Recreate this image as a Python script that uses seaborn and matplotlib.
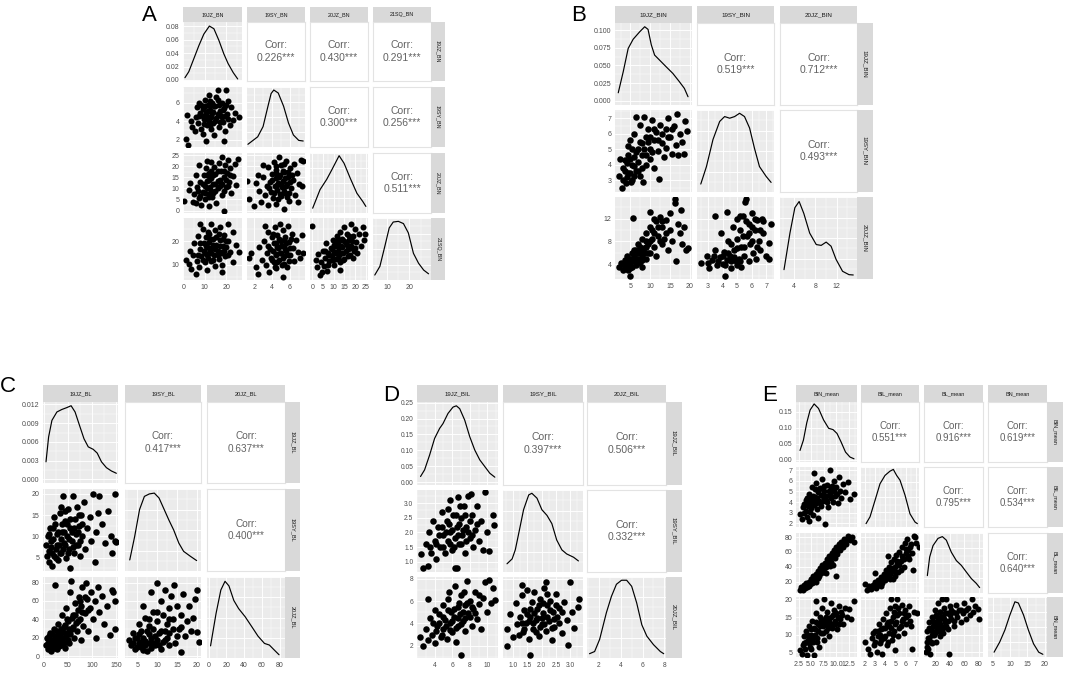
import matplotlib
matplotlib.use("Agg")
import matplotlib.pyplot as plt
from matplotlib.ticker import AutoMinorLocator, MaxNLocator
import pandas as pd
import seaborn as sns

# ---------------- panel A ----------------
A_names = ["19JZ_BN", "19SY_BN", "20JZ_BN", "21SQ_BN"]
A_corr = ["0.226***", "0.430***", "0.291***", "0.300***", "0.256***", "0.511***"]
A_ticks = [[0, 10, 20], [2, 4, 6], [0, 5, 10, 15, 20, 25], [10, 20]]
A_labels = [["0", "10", "20"], ["2", "4", "6"], ["0", "5", "10", "15", "20", "25"], ["10", "20"]]
A_lims = [(-0.1, 27.4), (1.2, 7.7), (-1.1, 26.0), (3.6, 29.7)]
A_dens_ticks = [0.00, 0.02, 0.04, 0.06, 0.08]
A_dens_labels = ["0.00", "0.02", "0.04", "0.06", "0.08"]
A_dens_lim = (-0.0015, 0.086)
A_d1_x = [0.8, 2.6, 5.0, 7.3, 9.6, 12.2, 14.3, 16.6, 18.9, 20.9, 23.3, 25.4]
A_d1_y = [0.0034, 0.0123, 0.032, 0.051, 0.068, 0.080, 0.076, 0.059, 0.039, 0.0245, 0.011, 0.0015]
A_d2_x = [1.3, 2.4, 3.0, 3.55, 3.9, 4.2, 4.7, 5.3, 5.85, 6.4, 7.0, 7.5]
A_d2_y = [0.045, 0.17, 0.34, 0.68, 0.89, 0.95, 0.90, 0.68, 0.40, 0.20, 0.11, 0.10]
A_d3_x = [0.15, 3.6, 6.7, 9.1, 12.5, 14.8, 17.7, 20.8, 23.6, 25.0]
A_d3_y = [0.08, 0.39, 0.56, 0.72, 0.955, 0.83, 0.58, 0.33, 0.19, 0.11]
A_d4_x = [4.4, 6.7, 8.9, 10.9, 12.7, 15.0, 17.3, 19.5, 21.8, 24.1, 26.4, 28.6]
A_d4_y = [0.08, 0.22, 0.54, 0.84, 0.935, 0.946, 0.91, 0.76, 0.43, 0.27, 0.16, 0.10]
A_p21 = [(1.1, 2.1), (2.3, 1.4), (1.9, 4.7), (3.5, 4.0), (4.2, 3.4), (5.7, 2.9), (6, 4.5), (6.5, 5.5),
         (7, 3.8), (7.5, 6.0), (8, 4.9), (8.5, 3.2), (9, 5.3), (9.5, 4.2), (10, 6.3), (10.4, 1.8),
         (10.5, 5.0), (11, 3.6), (11, 4.6), (11.5, 5.8), (12, 4.0), (12, 6.8), (12.5, 5.2), (13, 3.1),
         (13, 4.5), (13.5, 6.0), (14, 5.0), (14, 3.8), (14.5, 2.5), (15, 5.6), (15.5, 4.3), (16, 7.4),
         (16, 6.3), (16.5, 3.4), (17, 5.1), (17.5, 4.6), (18, 6.0), (18.5, 3.9), (19, 5.4), (19.5, 2.9),
         (20, 7.4), (20.5, 4.8), (21, 6.2), (22, 3.6), (22.5, 5.5), (23, 4.1), (24.3, 4.9), (26, 4.4),
         (19, 1.9), (9, 2.6), (7.5, 4.6), (8.5, 5.8), (9.5, 3.7), (10.5, 4.2), (11.5, 5.1), (12.5, 3.6),
         (12.5, 6.2), (13.5, 4.9), (14.5, 5.6), (15, 4.0), (15.5, 6.6), (16, 4.8), (16.5, 5.7), (17, 3.9),
         (18, 4.4), (18.5, 5.2), (19.5, 4.6), (20, 5.8), (21, 4.2), (10, 5.6), (13, 5.8), (9, 4.6)]
A_p31 = [(0.3, 4.5), (2.6, 9.2), (3, 12.5), (4.5, 4), (5, 7.5), (6, 3.5), (6.5, 10.5), (7.3, 20.5),
         (7.5, 5.5), (8, 13), (8.5, 2.5), (9, 8.5), (9.5, 16), (10, 11), (10, 5), (10.5, 19), (11, 13.5),
         (11.5, 7.5), (12, 2), (12, 17), (12.5, 10.5), (13, 22), (13, 14.5), (13.5, 6), (14, 12),
         (14.5, 19.5), (15, 9), (15, 16.5), (15.5, 3.5), (16, 13.5), (16.5, 21.5), (17, 11), (17.5, 18),
         (18, 7), (18, 24), (18.8, 0), (19, 15), (19.5, 20.5), (20, 10.5), (20.5, 17), (21, 23), (21.5, 13),
         (22, 19), (22.5, 8), (23, 15.5), (24, 21), (25.4, 23.5), (24.5, 11.5), (11, 22.5), (6, 16),
         (7, 9), (8, 6.5), (9, 12), (10, 8), (11, 10), (12, 14), (12, 6), (13, 9), (14, 16), (14, 8),
         (15, 12), (16, 10), (16, 18), (17, 14), (18, 12), (19, 9), (19, 18), (20, 14), (21, 11), (22, 16),
         (11, 16), (13, 18)]
A_p41 = [(1.1, 12), (2.5, 10.5), (3.4, 8.3), (3, 16), (4.5, 14), (5, 19), (6, 6), (6.5, 11.5), (7, 22),
         (7.5, 9), (8, 16.5), (8.5, 13.5), (9, 25), (9.5, 19), (10, 11), (10, 15), (10.5, 21.5), (11, 8),
         (11, 17.5), (11.5, 13), (12, 23), (12, 19.5), (12.5, 15.5), (13, 27), (13, 11.5), (13.5, 17),
         (14, 21), (14.5, 14), (15, 24.5), (15, 9.5), (15.5, 18.5), (16, 16), (16.5, 12.5), (17, 26),
         (17, 20.5), (17.5, 15), (18, 10), (18.5, 18), (19, 22.5), (19.5, 13.5), (20, 17.5), (21, 27),
         (21, 20), (22, 15.5), (23, 24), (23, 11), (24.5, 18.5), (25.9, 15.4), (18, 7), (8, 27),
         (7, 14), (8, 19), (9, 12), (9.5, 16), (10.5, 18), (11, 14), (12, 17), (12.5, 21), (13, 15),
         (14, 18.5), (14, 12), (15, 16.5), (15.5, 21.5), (16, 14), (17, 18), (18, 15.5), (18.5, 21),
         (19, 16), (20, 20), (21, 14), (11.5, 24), (16.5, 23)]
A_p32 = [(1.25, 13.3), (1.45, 5), (2, 2), (2.2, 12.5), (2.6, 9), (2.8, 4), (3, 15), (3.2, 7), (3.4, 11),
         (3.5, 19.5), (3.6, 2.5), (3.8, 13), (3.9, 8.5), (4, 16.5), (4.1, 5.5), (4.2, 22), (4.3, 11),
         (4.4, 14.5), (4.5, 18.5), (4.5, 3), (4.6, 9.5), (4.7, 12.5), (4.8, 24), (4.9, 16), (5, 6.5),
         (5, 20.5), (5.1, 10.5), (5.2, 13.5), (5.3, 0.5), (5.4, 17.5), (5.5, 8), (5.6, 22.5), (5.7, 12),
         (5.8, 15), (5.9, 4.5), (6, 19), (6.1, 10), (6.3, 14), (6.5, 21), (6.6, 7), (6.8, 17), (7, 12),
         (7.2, 23), (7.4, 11), (7.46, 22.6), (6.9, 4), (3, 20.5), (2.4, 16),
         (3.7, 10), (4, 14), (4.2, 8), (4.4, 17), (4.6, 11.5), (4.8, 15), (4.9, 7.5), (5, 12), (5.2, 18),
         (5.3, 9), (5.5, 14.5), (5.6, 11), (5.8, 17.5), (5.9, 8), (6, 13), (6.2, 16), (4.5, 20), (5.4, 21),
         (4.7, 5), (5.7, 6)]
A_p42 = [(1.4, 13), (1.6, 15), (2.2, 9), (2.4, 6.3), (2.5, 17.5), (2.9, 12), (3.1, 20), (3.3, 10), (3.4, 15),
         (3.5, 24), (3.6, 18), (3.7, 7), (3.9, 13), (4, 21.5), (4.1, 16), (4.2, 11), (4.3, 26), (4.4, 19),
         (4.5, 14), (4.5, 8.5), (4.6, 22.5), (4.7, 17), (4.8, 12), (4.9, 27), (5, 20), (5, 15), (5.1, 10),
         (5.2, 24.5), (5.3, 18), (5.4, 13.5), (5.5, 21.5), (5.6, 16), (5.7, 9), (5.8, 26.5), (5.9, 19.5),
         (6, 14), (6.2, 23), (6.4, 17), (6.5, 11.5), (6.7, 20.5), (6.9, 15.5), (7.1, 13), (7.4, 22.4),
         (7.5, 15), (5.2, 5), (3.2, 26.5),
         (3.8, 16.5), (4, 12), (4.2, 19), (4.4, 14.5), (4.6, 17.5), (4.8, 21), (4.9, 15), (5, 18), (5.2, 13),
         (5.3, 20.5), (5.5, 16.5), (5.6, 19), (5.8, 14), (6, 17), (6.1, 21), (4.6, 11), (5.4, 10.5),
         (4.1, 23), (5.9, 11.5), (4.3, 9)]
A_p43 = [(0, 26.5), (1.5, 12), (2, 9), (2.5, 14.5), (3.5, 5.5), (4, 11), (4.4, 7), (5, 16), (5.5, 9.5),
         (6, 13), (6.5, 19), (7, 7.5), (7.5, 15), (8, 11.5), (8.5, 17), (9, 13.5), (9.5, 20.5), (10, 10),
         (10, 15.5), (10.5, 18), (11, 12.5), (11.5, 22), (12, 16), (12, 19.5), (12.5, 14), (13, 24),
         (13, 11), (13.5, 18), (14, 21), (14.5, 15), (15, 26), (15, 12.5), (15.5, 19), (16, 23),
         (16.5, 16.5), (17, 20.5), (17.5, 14), (18, 27), (18, 18), (19, 22), (19.5, 16), (20, 25),
         (20.5, 19.5), (21, 15), (22, 23), (22.5, 18), (23.5, 26), (24, 20.5), (24.5, 23), (13, 8),
         (8, 14), (9, 16.5), (9.5, 12), (10, 18.5), (11, 15), (11, 20), (12, 13), (12.5, 17.5), (13, 20.5),
         (13.5, 15), (14, 17.5), (14.5, 12), (15, 20), (15.5, 16), (16, 18.5), (16.5, 13.5), (17, 22),
         (17.5, 17), (18.5, 20), (19, 13), (20, 17), (6, 16), (7.5, 10)]

# ---------------- panel B ----------------
B_names = ["19JZ_BIN", "19SY_BIN", "20JZ_BIN"]
B_corr = ["0.519***", "0.712***", "0.493***"]
B_ticks = [[5, 10, 15, 20], [3, 4, 5, 6, 7], [4, 8, 12]]
B_labels = [["5", "10", "15", "20"], ["3", "4", "5", "6", "7"], ["4", "8", "12"]]
B_lims = [(1.1, 20.5), (2.24, 7.54), (1.4, 15.8)]
B_dens_ticks = [0.0, 0.025, 0.05, 0.075, 0.1]
B_dens_labels = ["0.000", "0.025", "0.050", "0.075", "0.100"]
B_dens_lim = (-0.006, 0.110)
B_d1_x = [1.92, 3.17, 4.42, 5.67, 7.33, 8.58, 9.42, 10.25, 11.08, 12.33, 14.0, 15.67, 17.33, 18.58, 19.5]
B_d1_y = [0.0113, 0.041, 0.074, 0.087, 0.0976, 0.1047, 0.101, 0.079, 0.0646, 0.0575, 0.048, 0.0387,
          0.0269, 0.0175, 0.0057]
B_d2_x = [2.5, 2.89, 3.34, 3.8, 4.14, 4.49, 4.83, 5.17, 5.51, 5.86, 6.2, 6.54, 7.0, 7.34]
B_d2_y = [0.097, 0.31, 0.64, 0.86, 0.92, 0.90, 0.92, 0.96, 0.92, 0.78, 0.53, 0.31, 0.19, 0.117]
B_d3_x = [2.15, 3.26, 4.18, 4.98, 5.85, 6.95, 8.18, 9.1, 10.03, 10.95, 11.88, 13.1, 14.3, 15.1]
B_d3_y = [0.114, 0.56, 0.87, 0.945, 0.80, 0.56, 0.42, 0.41, 0.45, 0.40, 0.24, 0.094, 0.053, 0.049]
B_p21 = [(2, 3.3), (2.3, 4.4), (2.9, 2.5), (3, 3.0), (3.5, 3.6), (4, 4.1), (4, 3.2), (4.5, 4.6), (5, 3.5),
         (5, 5.6), (5.5, 4.0), (5.5, 3.0), (6, 4.5), (6, 6.0), (6.5, 3.6), (7, 5.0), (7, 4.2), (7.5, 6.6),
         (7.5, 3.3), (8, 5.4), (8, 4.6), (8.2, 2.9), (8.5, 7.1), (9, 5.8), (9, 4.0), (9.5, 6.3), (10, 5.0),
         (10, 4.4), (10.5, 6.9), (11, 5.6), (11, 3.8), (11.5, 6.1), (12, 4.9), (12.3, 3.1), (12.5, 6.6),
         (13, 5.4), (13.5, 4.5), (14, 6.3), (14, 5.1), (14.5, 7.0), (15, 5.8), (15.5, 4.7), (16, 6.5),
         (16.5, 5.3), (16.8, 7.3), (17, 4.6), (17.5, 6.0), (18, 5.5), (18.5, 4.7), (18.8, 6.8),
         (19.3, 6.2), (6.5, 7.1),
         (3, 3.8), (3.5, 4.3), (4.5, 3.5), (5, 4.4), (5.5, 5.0), (6, 3.3), (6, 3.9), (6.5, 4.8), (7, 3.6),
         (7.5, 5.5), (8, 3.8), (8.5, 5.0), (9, 4.6), (9.5, 5.5), (10, 5.8), (10.5, 4.8), (11, 6.3),
         (12, 5.6), (13, 6.0), (14.5, 5.8), (15.5, 6.3), (4.5, 5.2), (3.8, 2.8), (5.2, 2.9)]
B_p31 = [(2, 3.5), (2.5, 4.2), (3, 3.0), (3.5, 4.8), (4, 3.6), (4, 5.5), (4.5, 4.2), (4.8, 2.0), (5, 5.0),
         (5, 3.3), (5.5, 6.0), (5.7, 12.2), (6, 4.5), (6, 5.5), (6.5, 3.8), (6.5, 6.5), (7, 5.0), (7, 7.5),
         (7.5, 4.3), (7.5, 6.2), (8, 5.5), (8, 8.5), (8.5, 6.8), (9, 5.0), (9, 9.5), (9.5, 7.5), (10, 6.0),
         (10, 10.5), (10, 13.2), (10.5, 8.5), (11, 7.0), (11.5, 11.5), (11.5, 5.5), (12, 9.0), (12.5, 12.3),
         (13, 7.5), (13, 10.5), (13.5, 8.5), (14, 11.8), (14.5, 6.5), (15, 10), (15, 13), (15.5, 8),
         (16.1, 15.4), (16.3, 14.8), (16.5, 4.5), (17, 11), (17.5, 9.5), (17.7, 13.6), (18, 7.5),
         (18.5, 10.5), (19.5, 6.9), (19, 6.5),
         (3, 4.0), (3.5, 3.5), (4, 4.5), (4.5, 5.0), (5, 4.0), (5.5, 4.8), (5.5, 3.5), (6, 6.5), (6.5, 5.0),
         (7, 4.2), (7, 6.0), (7.5, 7.0), (8, 4.8), (8.5, 6.0), (9, 7.0), (9, 8.0), (9.5, 6.0), (10, 8.0),
         (10.5, 10), (11, 9.5), (12, 10.5), (12.5, 8), (13, 11.5), (14, 9.5), (11, 12), (8, 3.5), (4.5, 3.0)]
B_p32 = [(2.5, 4.2), (2.9, 5.5), (3.1, 3.3), (3.3, 4.8), (3.5, 6.5), (3.6, 3.8), (3.8, 5.2), (3.9, 9.5),
         (4, 4.0), (4.1, 6.2), (4.2, 2.0), (4.3, 13.2), (4.3, 4.8), (4.4, 8.0), (4.5, 5.5), (4.6, 3.3),
         (4.7, 10.5), (4.8, 6.5), (4.9, 4.5), (5, 12), (5, 8.5), (5.1, 5.0), (5.2, 10), (5.3, 3.5), (5.3, 7),
         (5.4, 12.5), (5.5, 5.5), (5.56, 15), (5.63, 15.4), (5.7, 9), (5.8, 11), (5.8, 4.5), (5.9, 7.5),
         (6, 13), (6.1, 6), (6.2, 10), (6.3, 5), (6.4, 11.8), (6.5, 8), (6.6, 6.5), (6.7, 12), (6.8, 9.5),
         (7, 5.5), (7.18, 7.8), (7.34, 11), (7.2, 5.0), (3.5, 12.5),
         (3.7, 4.5), (4, 5.5), (4.2, 3.8), (4.4, 6), (4.6, 4.5), (4.8, 5.2), (5, 3.8), (5, 6.8), (5.2, 4.5),
         (5.4, 9), (5.5, 7), (5.6, 11.5), (5.8, 9.5), (6, 8), (6, 10.5), (6.2, 12), (6.4, 7), (6.6, 10),
         (6.8, 11.5), (5.2, 12.5), (4.6, 7.5), (3.4, 5.5), (3, 4.2)]

# ---------------- panel C ----------------
C_names = ["19JZ_BL", "19SY_BL", "20JZ_BL"]
C_corr = ["0.417***", "0.637***", "0.400***"]
C_ticks = [[0, 50, 100, 150], [5, 10, 15, 20], [0, 20, 40, 60, 80]]
C_labels = [["0", "50", "100", "150"], ["5", "10", "15", "20"], ["0", "20", "40", "60", "80"]]
C_lims = [(-1.4, 153.4), (1.9, 21.1), (-1.8, 86.0)]
C_dens_ticks = [0.0, 0.003, 0.006, 0.009, 0.012]
C_dens_labels = ["0.000", "0.003", "0.006", "0.009", "0.012"]
C_dens_lim = (-0.0006, 0.0124)
C_d1_x = [4.8, 10.2, 17, 27.3, 37.5, 47.7, 56.6, 64.8, 75, 83.2, 92, 102.3, 110.5, 119.3, 129.5, 139.8, 150]
C_d1_y = [0.0028, 0.0068, 0.00945, 0.0108, 0.0112, 0.0115, 0.0118, 0.0108, 0.0084, 0.0065, 0.0052,
          0.0048, 0.0042, 0.0028, 0.00186, 0.00133, 0.00096]
C_d2_x = [3.1, 4.34, 5.58, 6.8, 8.05, 9.3, 10.5, 11.8, 13.0, 14.2, 15.5, 16.7, 18.4, 20.0]
C_d2_y = [0.135, 0.42, 0.75, 0.91, 0.94, 0.95, 0.89, 0.75, 0.62, 0.50, 0.34, 0.24, 0.18, 0.127]
C_d3_x = [2.2, 8.4, 13.8, 18.5, 22.9, 28.4, 33.8, 41.1, 48.4, 55.6, 62.9, 68.4, 73.8, 79.3]
C_d3_y = [0.15, 0.55, 0.84, 0.947, 0.89, 0.71, 0.61, 0.51, 0.39, 0.27, 0.18, 0.16, 0.10, 0.04]
C_p21 = [(5, 8), (6, 5.5), (8, 10), (10, 6.5), (12, 4), (14, 12), (16, 7.5), (18, 3), (20, 9.5), (22, 5.5),
         (24, 13), (26, 7), (28, 10.5), (30, 4.5), (32, 8), (34, 15.5), (36, 6), (38, 11), (40, 19.5),
         (42, 8.5), (44, 13.5), (46, 5), (48, 10), (50, 16.5), (52, 7), (54.5, 2.6), (55, 12), (58, 9),
         (60, 19.5), (62, 6), (64, 14), (66, 10.5), (68, 17), (70, 8), (72, 12.5), (75, 5.5), (78, 15),
         (80, 10), (84, 18), (86, 7), (90, 12), (95, 14.5), (98, 9), (102, 20), (105, 4), (108, 11),
         (112, 15.5), (115, 19.5), (120, 13), (126, 8.5), (132, 16), (138, 10), (146.6, 20), (146.6, 9),
         (150, 8.7), (140, 6),
         (15, 9), (18, 6), (20, 12), (25, 5), (28, 8), (30, 11), (33, 6), (35, 9.5), (38, 13), (40, 7),
         (42, 11), (45, 8), (48, 13), (50, 6), (52, 9.5), (55, 14), (58, 11), (60, 7.5), (63, 12), (66, 8),
         (70, 11), (72, 15), (75, 9), (80, 13), (45, 16), (35, 17), (10, 10.5), (22, 14.5)]
C_p31 = [(5, 12), (7, 20), (9, 8), (11, 15), (13, 25), (15, 6), (17, 18), (19, 10), (21, 30), (23.9, 77.5),
         (24, 14), (26, 22), (28, 8), (30, 35), (32, 17), (34, 26), (36, 12), (38, 45), (40, 20), (42, 32),
         (44, 9), (46, 52), (48, 25), (50, 38), (52, 15), (54, 70), (56.6, 82), (58, 30), (60, 45), (62, 20),
         (64, 58), (66, 36), (68, 27), (70, 50), (72, 64), (74, 40), (76, 18), (78, 55), (80, 75), (82, 33),
         (85, 47), (88, 80), (90, 62), (92, 28), (95, 52), (98, 70), (102, 40), (105, 60), (108, 20),
         (112, 75), (115, 48), (120, 65), (125, 35), (130, 55), (136, 23), (140, 72), (143, 70),
         (146.6, 30), (148, 60),
         (8, 15), (10, 22), (12, 10), (14, 18), (16, 12), (18, 24), (20, 16), (22, 9), (24, 20), (26, 13),
         (28, 28), (30, 18), (32, 11), (34, 22), (36, 30), (38, 16), (40, 26), (42, 14), (44, 34), (46, 22),
         (48, 40), (50, 18), (52, 30), (55, 24), (58, 42), (60, 32), (65, 45), (70, 38), (75, 60), (80, 48),
         (86, 64), (92, 50)]
C_p32 = [(3, 18), (3.5, 12), (4, 25), (4.5, 8), (5, 20), (5.5, 15), (5.5, 35), (6, 10), (6, 28), (6.5, 55),
         (7, 17), (7, 42), (7.5, 6), (8, 24), (8, 33), (8.5, 70), (9, 14), (9, 48), (9.5, 22), (10, 38),
         (10.1, 80), (10.5, 12), (11, 28), (11, 60), (11.5, 45), (12, 18), (12, 72), (12.5, 35), (13, 52),
         (13, 25), (13.5, 65), (14, 40), (14.2, 77.5), (14.5, 15), (15, 55), (15.5, 30), (16, 45), (16, 5),
         (16.5, 68), (17, 22), (17.5, 38), (18, 55), (18.5, 28), (19, 42), (19.5, 62), (20, 26),
         (20.5, 16), (20, 72),
         (4, 14), (4.5, 20), (5, 10), (5.5, 24), (6, 16), (6.5, 7), (6.5, 20), (7, 12), (7.5, 28), (8, 15),
         (8.5, 9), (8.5, 20), (9, 30), (9.5, 12), (10, 18), (10.5, 25), (11, 8), (11.5, 16), (12, 28),
         (12.5, 20), (13, 12), (14, 30), (15, 22), (10, 48), (8, 40), (13, 40), (16, 32)]

# ---------------- panel D ----------------
D_names = ["19JZ_BIL", "19SY_BIL", "20JZ_BIL"]
D_corr = ["0.397***", "0.506***", "0.332***"]
D_ticks = [[4, 6, 8, 10], [1.0, 1.5, 2.0, 2.5, 3.0], [2, 4, 6, 8]]
D_labels = [["4", "6", "8", "10"], ["1.0", "1.5", "2.0", "2.5", "3.0"], ["2", "4", "6", "8"]]
D_lims = [(2.0, 11.2), (0.65, 3.45), (0.9, 8.15)]
D_dens_ticks = [0.0, 0.05, 0.10, 0.15, 0.20, 0.25]
D_dens_labels = ["0.00", "0.05", "0.10", "0.15", "0.20", "0.25"]
D_dens_lim = (-0.009, 0.252)
D_d1_x = [2.4, 2.86, 3.43, 4.0, 4.57, 4.95, 5.52, 6.09, 6.47, 6.85, 7.42, 7.99, 8.56, 9.13, 9.7, 10.27, 10.84]
D_d1_y = [0.0177, 0.0385, 0.085, 0.1375, 0.169, 0.184, 0.216, 0.236, 0.24, 0.231, 0.195, 0.143, 0.101,
          0.070, 0.049, 0.028, 0.0156]
D_d2_x = [0.79, 0.97, 1.08, 1.2, 1.37, 1.55, 1.66, 1.84, 2.01, 2.19, 2.36, 2.53, 2.71, 2.88, 3.12, 3.29]
D_d2_y = [0.10, 0.16, 0.27, 0.47, 0.76, 0.94, 0.96, 0.90, 0.76, 0.69, 0.59, 0.39, 0.27, 0.22, 0.18, 0.135]
D_d3_x = [1.13, 1.6, 2.06, 2.68, 3.14, 3.6, 4.07, 4.54, 5.0, 5.46, 5.93, 6.39, 7.0, 7.63, 7.94]
D_d3_y = [0.053, 0.08, 0.23, 0.56, 0.76, 0.91, 0.96, 0.96, 0.885, 0.68, 0.41, 0.27, 0.165, 0.08, 0.053]
D_p21 = [(2.4, 1.25), (2.67, 0.8), (3.0, 1.6), (3.24, 0.87), (3.4, 2.0), (3.6, 1.3), (3.8, 2.4), (4.0, 1.7),
         (4.2, 1.1), (4.4, 2.2), (4.6, 1.5), (4.8, 2.7), (5.0, 1.9), (5.2, 1.3), (5.4, 2.4), (5.5, 1.7),
         (5.7, 3.1), (5.8, 2.0), (6.0, 1.4), (6.1, 2.6), (6.3, 0.8), (6.3, 1.8), (6.5, 2.2), (6.5, 0.78),
         (6.7, 3.2), (6.8, 1.6), (7.0, 2.5), (7.1, 1.9), (7.3, 2.9), (7.4, 1.3), (7.6, 2.2), (7.8, 3.25),
         (8.0, 1.8), (8.2, 2.6), (8.4, 1.5), (8.6, 2.1), (8.8, 2.9), (9.0, 1.7), (9.3, 2.4), (9.5, 1.4),
         (9.7, 3.37), (9.9, 2.0), (10.2, 1.35), (10.6, 2.58), (10.8, 2.24), (8.1, 3.3),
         (4.5, 1.9), (4.8, 2.2), (5.0, 1.5), (5.3, 2.0), (5.6, 2.3), (5.8, 1.6), (6.0, 2.1), (6.2, 1.5),
         (6.4, 2.6), (6.6, 1.9), (6.8, 2.3), (7.0, 1.6), (7.2, 2.1), (7.4, 2.6), (7.6, 1.7), (7.8, 2.0),
         (8.0, 2.4), (8.3, 1.9), (5.5, 2.8), (6.9, 2.9), (4.2, 1.6), (8.8, 2.3), (3.5, 1.5)]
D_p31 = [(2.3, 2.8), (2.67, 2.0), (3.0, 3.5), (3.3, 2.5), (3.5, 4.5), (3.7, 3.0), (4.0, 5.2), (4.0, 2.2),
         (4.3, 3.8), (4.5, 4.8), (4.7, 2.8), (4.9, 5.6), (5.0, 3.5), (5.2, 4.3), (5.4, 2.6), (5.5, 6.2),
         (5.7, 4.0), (5.9, 5.0), (6.0, 3.2), (6.2, 4.6), (6.3, 7.3), (6.4, 2.3), (6.6, 5.5), (6.7, 3.8),
         (6.9, 4.8), (7.0, 6.5), (7.04, 1.2), (7.2, 4.2), (7.4, 5.6), (7.5, 3.3), (7.7, 7.8), (7.8, 4.9),
         (8.0, 6.0), (8.2, 3.8), (8.4, 5.3), (8.6, 6.8), (8.8, 4.4), (9.0, 5.7), (9.3, 3.5), (9.5, 6.3),
         (9.7, 7.7), (9.9, 5.0), (10.2, 7.9), (10.4, 5.8), (10.6, 7.2), (10.9, 6.1), (3.2, 6.2),
         (4.2, 3.3), (4.5, 4.0), (4.8, 3.0), (5.0, 4.6), (5.3, 3.8), (5.5, 5.2), (5.8, 3.4), (6.0, 4.2),
         (6.2, 5.3), (6.4, 3.6), (6.6, 4.5), (6.8, 5.8), (7.0, 3.9), (7.2, 5.0), (7.5, 4.5), (7.7, 5.8),
         (8.0, 4.6), (8.3, 5.5), (8.6, 4.9), (9.0, 6.5), (5.6, 6.8), (7.3, 6.8), (3.8, 4.0)]
D_p32 = [(0.79, 2.0), (0.8, 3.5), (0.9, 4.8), (1.0, 2.8), (1.1, 5.8), (1.15, 3.9), (1.25, 4.6), (1.3, 6.5),
         (1.35, 3.2), (1.4, 5.2), (1.45, 4.0), (1.5, 7.0), (1.55, 2.6), (1.6, 1.2), (1.6, 4.6), (1.65, 5.9),
         (1.7, 3.5), (1.75, 6.8), (1.8, 4.3), (1.85, 5.3), (1.9, 2.9), (1.95, 6.2), (2.0, 3.9), (2.05, 4.9),
         (2.1, 7.2), (2.15, 7.7), (2.15, 3.3), (2.2, 5.6), (2.25, 4.2), (2.3, 6.0), (2.35, 2.5), (2.4, 5.0),
         (2.45, 3.7), (2.5, 6.6), (2.55, 4.6), (2.6, 5.4), (2.7, 3.1), (2.8, 5.9), (2.9, 4.3), (2.94, 2.1),
         (3.0, 7.7), (3.05, 5.0), (3.15, 3.6), (3.29, 5.5), (3.3, 6.2), (1.3, 7.4),
         (1.3, 4.0), (1.4, 3.5), (1.5, 4.8), (1.55, 4.2), (1.6, 5.3), (1.7, 4.0), (1.75, 4.9), (1.8, 3.2),
         (1.85, 4.5), (1.9, 5.6), (1.95, 3.7), (2.0, 4.5), (2.05, 5.8), (2.1, 3.9), (2.2, 4.6), (2.3, 5.2),
         (2.35, 3.6), (2.45, 4.4), (2.5, 5.6), (2.6, 4.0), (2.7, 5.0), (2.2, 6.6), (1.2, 3.0)]

# ---------------- panel E ----------------
E_names = ["BIN_mean", "BIL_mean", "BL_mean", "BN_mean"]
E_corr = ["0.551***", "0.916***", "0.619***", "0.795***", "0.534***", "0.640***"]
E_ticks = [[2.5, 5.0, 7.5, 10.0, 12.5], [2, 3, 4, 5, 6, 7], [20, 40, 60, 80], [5, 10, 15, 20]]
E_labels = [["2.5", "5.0", "7.5", "10.0", "12.5"], ["2", "3", "4", "5", "6", "7"],
            ["20", "40", "60", "80"], ["5", "10", "15", "20"]]
E_lims = [(2.0, 14.2), (1.65, 7.3), (4.5, 85.5), (3.6, 20.7)]
E_dens_ticks = [0.0, 0.05, 0.10, 0.15]
E_dens_labels = ["0.00", "0.05", "0.10", "0.15"]
E_dens_lim = (-0.007, 0.18)
E_d1_x = [2.8, 3.48, 4.15, 4.82, 5.63, 6.5, 7.52, 8.53, 9.4, 10.2, 11.0, 11.9, 12.8, 13.6]
E_d1_y = [0.029, 0.061, 0.115, 0.155, 0.174, 0.16, 0.124, 0.098, 0.094, 0.082, 0.056, 0.024, 0.0084, 0.003]
E_d2_x = [2.14, 2.53, 3.01, 3.5, 3.99, 4.47, 4.8, 5.12, 5.45, 5.94, 6.42, 6.91, 7.14]
E_d2_y = [0.056, 0.17, 0.44, 0.72, 0.86, 0.93, 0.96, 0.86, 0.78, 0.53, 0.22, 0.083, 0.056]
E_d3_x = [9.1, 12.3, 16.9, 23.7, 29.7, 35.2, 42.0, 48.9, 55.8, 62.6, 69.5, 76.3, 80.9]
E_d3_y = [0.29, 0.60, 0.79, 0.91, 0.94, 0.88, 0.68, 0.54, 0.46, 0.35, 0.24, 0.16, 0.09]
E_d4_x = [5.36, 7.0, 8.5, 9.95, 11.4, 12.4, 13.9, 15.3, 16.8, 18.3, 19.5]
E_d4_y = [0.08, 0.25, 0.45, 0.70, 0.92, 0.90, 0.70, 0.45, 0.22, 0.08, 0.045]
E_p21 = [(2.8, 2.9), (3.1, 2.4), (3.3, 3.5), (3.6, 3.0), (3.9, 4.2), (4.1, 2.6), (4.3, 3.6), (4.6, 4.8),
         (4.8, 3.1), (5.0, 4.0), (5.2, 5.4), (5.4, 2.8), (5.5, 6.7), (5.6, 3.7), (5.8, 4.5), (6.0, 5.8),
         (6.2, 3.3), (6.4, 4.9), (6.6, 4.1), (6.8, 5.3), (7.0, 3.6), (7.2, 6.2), (7.4, 4.6), (7.6, 5.0),
         (7.85, 1.94), (8.0, 4.2), (8.2, 5.6), (8.4, 3.5), (8.7, 7.0), (8.8, 4.8), (9.0, 5.3), (9.3, 4.0),
         (9.5, 6.0), (9.8, 4.6), (10.0, 5.4), (10.3, 3.9), (10.5, 6.4), (10.8, 5.0), (11.0, 4.4),
         (11.3, 5.7), (11.8, 4.9), (12.4, 5.9), (12.8, 4.3), (13.6, 4.75), (4.5, 2.2), (6.3, 2.5),
         (4.2, 4.4), (4.5, 3.8), (4.8, 4.4), (5.0, 3.4), (5.3, 4.6), (5.6, 4.1), (5.9, 3.9), (6.2, 4.4),
         (6.5, 5.2), (6.8, 3.9), (7.0, 4.7), (7.3, 4.1), (7.6, 5.5), (7.9, 4.6), (8.2, 4.0), (8.5, 5.0),
         (8.9, 4.4), (9.2, 5.5), (9.6, 5.0), (10.2, 4.8), (5.8, 5.2), (3.6, 3.8), (4.0, 3.2)]
E_p31 = [(2.8, 8), (3.0, 12), (3.3, 9), (3.5, 15), (3.8, 11), (4.0, 18), (4.2, 13), (4.5, 20), (4.7, 16),
         (5.0, 24), (5.2, 18), (5.4, 27), (5.6, 22), (5.9, 30), (6.1, 25), (6.3, 34), (6.5, 28), (6.8, 38),
         (7.0, 32), (7.2, 42), (7.4, 35), (7.7, 45), (7.9, 39), (8.1, 50), (8.4, 43), (8.6, 54), (8.9, 47),
         (9.1, 58), (9.3, 42.6), (9.5, 62), (9.7, 52), (9.9, 28), (10.0, 66), (10.2, 57), (10.5, 70),
         (10.8, 62), (11.0, 74), (11.3, 67), (11.6, 78), (12.0, 71), (12.4, 81), (12.8, 76), (13.2, 80),
         (13.6, 73), (6.0, 19), (8.0, 31),
         (3.2, 11), (3.6, 13), (4.0, 14), (4.4, 17), (4.8, 19), (5.1, 22), (5.5, 24), (5.8, 26), (6.2, 29),
         (6.6, 32), (7.0, 36), (7.3, 38), (7.6, 40), (8.0, 44), (8.3, 47), (8.8, 51), (9.2, 54), (9.6, 58),
         (10.1, 61), (10.6, 65), (11.2, 70), (11.8, 74), (12.2, 77), (4.6, 14), (5.4, 20), (6.4, 25),
         (7.5, 33), (8.7, 41)]
E_p41 = [(2.8, 5.5), (3.1, 4.5), (3.3, 7), (3.6, 9.5), (3.8, 6), (4.0, 11), (4.2, 4.2), (4.4, 8.5),
         (4.6, 12.5), (4.8, 6.5), (5.0, 10), (5.2, 14), (5.4, 8), (5.5, 4.3), (5.7, 11.5), (5.9, 16),
         (6.1, 9), (6.3, 13), (6.5, 6.5), (6.7, 15), (6.9, 10.5), (7.1, 17.5), (7.3, 12.5), (7.5, 20),
         (7.6, 8.5), (7.8, 14.5), (8.0, 11), (8.2, 16.5), (8.4, 13), (8.6, 9.5), (8.9, 19), (9.0, 15),
         (9.2, 12), (9.5, 17), (9.7, 14), (10.0, 16), (10.2, 11.5), (10.5, 18), (10.8, 14.5), (11.0, 16.5),
         (11.4, 13), (11.8, 17.5), (12.2, 15), (12.6, 17.2), (13.0, 14.5), (13.6, 19.5), (6.0, 19.5),
         (3.5, 7.5), (4.0, 8), (4.3, 10), (4.6, 7.5), (4.9, 11.5), (5.2, 9), (5.5, 12), (5.8, 10),
         (6.0, 13.5), (6.4, 11), (6.8, 12.5), (7.0, 14), (7.4, 10.5), (7.7, 13), (8.0, 15), (8.3, 12),
         (8.6, 14), (9.0, 13), (9.4, 15.5), (9.8, 13), (10.3, 15), (10.6, 13), (11.2, 15.5), (5.0, 6),
         (6.2, 8)]
E_p32 = [(2.0, 17), (2.2, 8), (2.4, 12), (2.6, 10), (2.8, 15), (3.0, 19), (3.1, 11), (3.3, 22), (3.4, 15),
         (3.6, 26), (3.7, 18), (3.9, 30), (4.0, 22), (4.1, 36), (4.2, 26), (4.4, 40), (4.5, 30), (4.6, 47),
         (4.7, 35), (4.8, 24), (4.9, 50), (5.0, 40), (5.1, 56), (5.2, 44), (5.3, 33), (5.4, 60), (5.5, 48),
         (5.6, 66), (5.7, 52), (5.8, 40), (5.9, 72), (6.0, 58), (6.1, 78), (6.2, 62), (6.3, 50), (6.5, 70),
         (6.6, 58), (6.7, 35), (6.8, 82), (6.9, 80), (7.0, 72), (7.3, 66), (3.0, 32), (4.3, 55),
         (2.4, 14), (2.7, 13), (3.0, 15), (3.2, 17), (3.5, 20), (3.8, 22), (4.0, 27), (4.2, 31), (4.4, 28),
         (4.6, 34), (4.8, 38), (5.0, 33), (5.2, 48), (5.4, 42), (5.6, 55), (5.8, 50), (6.0, 64), (6.2, 55),
         (6.4, 66), (4.5, 23), (3.6, 14), (5.0, 28), (5.5, 36)]
E_p42 = [(2.0, 7.8), (2.3, 6), (2.5, 4.5), (2.7, 9), (2.9, 7), (3.0, 11), (3.2, 5), (3.3, 9.5), (3.4, 13),
         (3.5, 7.5), (3.6, 11.5), (3.7, 4.5), (3.8, 14.5), (3.9, 9), (4.0, 12), (4.1, 16), (4.2, 7),
         (4.3, 13.5), (4.4, 10.5), (4.5, 17.5), (4.6, 20), (4.6, 12), (4.7, 8.5), (4.8, 15), (4.9, 11),
         (5.0, 18), (5.1, 13.5), (5.2, 20), (5.3, 9.5), (5.4, 16), (5.5, 12.5), (5.6, 18.5), (5.7, 14.5),
         (5.8, 10.5), (5.9, 17), (6.0, 13), (6.2, 15.5), (6.3, 18), (6.5, 12.5), (6.6, 5.9), (6.8, 16.5),
         (7.1, 16), (5.0, 5.5),
         (3.0, 8), (3.3, 11), (3.5, 10), (3.8, 12), (4.0, 9.5), (4.2, 13), (4.4, 12.5), (4.6, 14), (4.8, 10),
         (5.0, 13), (5.2, 15.5), (5.4, 12), (5.6, 14), (5.8, 16), (6.0, 15), (4.3, 8), (3.6, 8.5),
         (2.8, 10.5), (5.3, 17.5), (6.4, 14), (4.9, 16.5)]
E_p43 = [(7, 5), (8, 8), (9, 11), (10, 6), (11, 13.5), (12, 9), (13, 4.5), (14, 11.5), (15, 15), (16, 7.5),
         (17, 12.5), (18, 10), (19, 17), (20, 13), (21, 8), (22, 15), (23, 11), (24, 19), (25, 14),
         (26, 9.5), (27, 16.5), (28, 12.5), (29, 20), (30, 15), (31, 10.5), (32, 17.5), (34, 13.5),
         (35, 20), (36, 16), (38, 11.5), (39, 4.5), (40, 18), (42, 14.5), (44, 16.5), (46, 12.5),
         (48, 18.5), (50, 15), (52, 17), (55, 13.5), (58, 16), (60, 19), (62, 14.5), (65, 17.5),
         (68, 15.5), (70, 20), (72, 16.5), (75, 18), (79, 17.2), (80, 14.5),
         (10, 9), (12, 12), (14, 8), (15, 11), (17, 14), (18, 12.5), (20, 10.5), (21, 15.5), (22, 12),
         (24, 14), (25, 11), (26, 16.5), (27, 13), (28, 15), (30, 12), (32, 14.5), (33, 16), (35, 12.5),
         (37, 14), (40, 15.5), (42, 17), (45, 14), (48, 16), (55, 17), (62, 17), (8, 6.5), (16, 10)]

W, H = 1065, 674
PANEL_BG = "#EBEBEB"
STRIP_BG = "#D9D9D9"

panels = [
    dict(letter="A", names=A_names, corr=A_corr, ticks=A_ticks, labels=A_labels, lims=A_lims,
         dens_ticks=A_dens_ticks, dens_labels=A_dens_labels, dens_lim=A_dens_lim,
         dens=[(A_d1_x, A_d1_y), (A_d2_x, A_d2_y), (A_d3_x, A_d3_y), (A_d4_x, A_d4_y)],
         pts={(1, 0): A_p21, (2, 0): A_p31, (3, 0): A_p41, (2, 1): A_p32, (3, 1): A_p42, (3, 2): A_p43},
         cols=[(183, 242), (247, 305), (310, 368), (373, 431)],
         rows=[(22, 81), (87, 147), (153, 213), (218, 280)],
         strip_top=7, strip_right=445, letter_xy=(142, 5), fs=5.0, sfs=3.9, cfs=7.5, ms=19),
    dict(letter="B", names=B_names, corr=B_corr, ticks=B_ticks, labels=B_labels, lims=B_lims,
         dens_ticks=B_dens_ticks, dens_labels=B_dens_labels, dens_lim=B_dens_lim,
         dens=[(B_d1_x, B_d1_y), (B_d2_x, B_d2_y), (B_d3_x, B_d3_y)],
         pts={(1, 0): B_p21, (2, 0): B_p31, (2, 1): B_p32},
         cols=[(615, 692), (697, 774), (780, 857)],
         rows=[(23, 105), (110, 192), (197, 279)],
         strip_top=6, strip_right=873, letter_xy=(571, 5), fs=5.0, sfs=4.5, cfs=7.5, ms=22),
    dict(letter="C", names=C_names, corr=C_corr, ticks=C_ticks, labels=C_labels, lims=C_lims,
         dens_ticks=C_dens_ticks, dens_labels=C_dens_labels, dens_lim=C_dens_lim,
         dens=[(C_d1_x, C_d1_y), (C_d2_x, C_d2_y), (C_d3_x, C_d3_y)],
         pts={(1, 0): C_p21, (2, 0): C_p31, (2, 1): C_p32},
         cols=[(43, 118), (125, 201), (207, 285)],
         rows=[(402, 483), (489, 571), (577, 658)],
         strip_top=385, strip_right=300, letter_xy=(0, 376), fs=5.0, sfs=4.1, cfs=7.2, ms=22),
    dict(letter="D", names=D_names, corr=D_corr, ticks=D_ticks, labels=D_labels, lims=D_lims,
         dens_ticks=D_dens_ticks, dens_labels=D_dens_labels, dens_lim=D_dens_lim,
         dens=[(D_d1_x, D_d1_y), (D_d2_x, D_d2_y), (D_d3_x, D_d3_y)],
         pts={(1, 0): D_p21, (2, 0): D_p31, (2, 1): D_p32},
         cols=[(417, 498), (503, 583), (587, 666)],
         rows=[(402, 485), (490, 572), (577, 658)],
         strip_top=385, strip_right=682, letter_xy=(383, 385), fs=4.8, sfs=4.4, cfs=7.5, ms=22),
    dict(letter="E", names=E_names, corr=E_corr, ticks=E_ticks, labels=E_labels, lims=E_lims,
         dens_ticks=E_dens_ticks, dens_labels=E_dens_labels, dens_lim=E_dens_lim,
         dens=[(E_d1_x, E_d1_y), (E_d2_x, E_d2_y), (E_d3_x, E_d3_y), (E_d4_x, E_d4_y)],
         pts={(1, 0): E_p21, (2, 0): E_p31, (3, 0): E_p41, (2, 1): E_p32, (3, 1): E_p42, (3, 2): E_p43},
         cols=[(796, 857), (861, 919), (924, 983), (988, 1047)],
         rows=[(402, 462), (467, 527), (533, 593), (597, 657)],
         strip_top=385, strip_right=1063, letter_xy=(762, 385), fs=5.0, sfs=4.0, cfs=7.0, ms=19),
]


def cell(fig, x0, x1, y0, y1):
    return fig.add_axes([x0 / W, 1 - y1 / H, (x1 - x0) / W, (y1 - y0) / H])


def strip(ax, text, size, rotation=0):
    ax.set_facecolor(STRIP_BG)
    ax.set_xticks([])
    ax.set_yticks([])
    for s in ax.spines.values():
        s.set_visible(False)
    ax.text(0.5, 0.5, text, ha="center", va="center", fontsize=size,
            color="#1A1A1A", rotation=rotation, transform=ax.transAxes)


def draw_pairs(fig, p):
    names = p["names"]
    k = len(names)
    corr = iter(p["corr"])
    for i in range(k):
        for j in range(k):
            x0, x1 = p["cols"][j]
            y0, y1 = p["rows"][i]
            ax = cell(fig, x0, x1, y0, y1)
            if j > i:
                # upper triangle: correlation text
                ax.set_facecolor("white")
                ax.set_xticks([])
                ax.set_yticks([])
                for s in ax.spines.values():
                    s.set_color("#E3E3E3")
                    s.set_linewidth(0.8)
                ax.text(0.5, 0.5, "Corr:\n" + next(corr), ha="center", va="center",
                        fontsize=p["cfs"], color="#626262", linespacing=1.35,
                        transform=ax.transAxes)
                continue
            ax.set_facecolor(PANEL_BG)
            for s in ax.spines.values():
                s.set_visible(False)
            if i == j:
                dx, dy = p["dens"][i]
                sns.lineplot(x=dx, y=dy, ax=ax, color="black", lw=0.85, sort=False, estimator=None)
                if i == 0:
                    ax.set_ylim(p["dens_lim"])
                    ax.set_yticks(p["dens_ticks"], p["dens_labels"])
                else:
                    ax.set_ylim(0, 1)
                    ax.yaxis.set_major_locator(MaxNLocator(4))
            else:
                df = pd.DataFrame(p["pts"][(i, j)], columns=["x", "y"])
                sns.scatterplot(data=df, x="x", y="y", ax=ax, color="black", s=p["ms"],
                                linewidth=0, legend=False)
                ax.set_ylim(p["lims"][i])
                ax.set_yticks(p["ticks"][i], p["labels"][i])
            ax.set_xlim(p["lims"][j])
            ax.set_xticks(p["ticks"][j], p["labels"][j])
            ax.xaxis.set_minor_locator(AutoMinorLocator(2))
            ax.yaxis.set_minor_locator(AutoMinorLocator(2))
            ax.set_axisbelow(True)
            ax.grid(which="major", color="white", lw=0.65)
            ax.grid(which="minor", color="white", lw=0.3)
            ax.set_xlabel("")
            ax.set_ylabel("")
            ax.tick_params(which="both", length=0, labelleft=False, labelbottom=False)
            if j == 0:
                ax.tick_params(axis="y", which="major", length=1.6, width=0.5, color="#333333",
                               labelleft=True, labelsize=p["fs"], labelcolor="#4D4D4D", pad=1)
            if i == k - 1:
                ax.tick_params(axis="x", which="major", length=1.6, width=0.5, color="#333333",
                               labelbottom=True, labelsize=p["fs"], labelcolor="#4D4D4D", pad=1)
    # facet strips
    for j in range(k):
        x0, x1 = p["cols"][j]
        strip(cell(fig, x0, x1, p["strip_top"], p["rows"][0][0]), names[j], p["sfs"])
    for i in range(k):
        y0, y1 = p["rows"][i]
        strip(cell(fig, p["cols"][-1][1], p["strip_right"], y0, y1), names[i], p["sfs"], -90)
    lx, ly = p["letter_xy"]
    fig.text(lx / W, 1 - ly / H, p["letter"], fontsize=16, ha="left", va="top", color="black")


sns.set_theme(style="white")
plt.rcParams["font.family"] = ["Liberation Sans", "DejaVu Sans"]

fig = plt.figure(figsize=(W / 100, H / 100), dpi=100)
fig.patch.set_facecolor("white")
for p in panels:
    draw_pairs(fig, p)
fig.savefig("out.png", dpi=100, facecolor="white")
